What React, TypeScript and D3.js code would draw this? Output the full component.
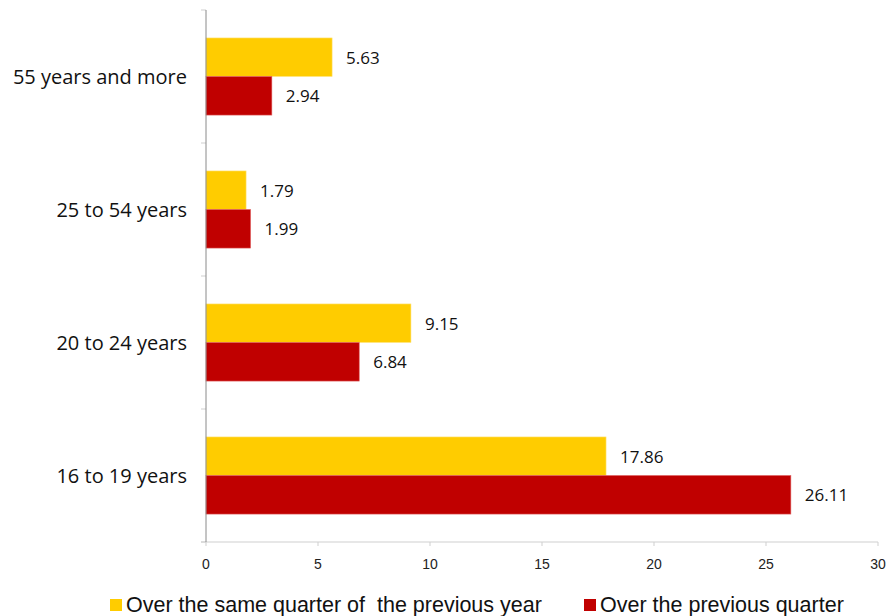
import React from "react";
import * as d3 from "d3";

const categories = ["55 years and more", "25 to 54 years", "20 to 24 years", "16 to 19 years"];
const sameQuarterPrevYear = [5.63, 1.79, 9.15, 17.86];
const previousQuarter = [2.94, 1.99, 6.84, 26.11];
const xTicks = [0, 5, 10, 15, 20, 25, 30];
const seriesNames = ["Over the same quarter of  the previous year", "Over the previous quarter"];
const seriesColors = ["#FFCC00", "#C00000"];

const W = 890;
const H = 616;

export default function App() {
  const x = d3.scaleLinear().domain([0, 30]).range([206, 878]);
  const y = d3.scaleBand<string>().domain(categories).range([10, 542]).paddingInner(0.42).paddingOuter(0.21);
  const sub = d3.scaleBand<number>().domain([0, 1]).range([0, y.bandwidth()]);
  const step = y.step();
  const boundaries = d3.range(categories.length + 1).map((i) => 10 + i * step);
  const series = [sameQuarterPrevYear, previousQuarter];
  const labelFont = "'Open Sans', sans-serif";
  const mainFont = "'Liberation Sans', Arial, sans-serif";

  return (
    <svg width={W} height={H} style={{ position: "absolute", left: 0, top: 0, background: "#fff" }}>
      {/* x axis */}
      <line x1={201} x2={878} y1={542} y2={542} stroke="#cfcfcf" strokeWidth={1} />
      {xTicks.map((t) => (
        <g key={t}>
          <line x1={x(t)} x2={x(t)} y1={542} y2={546} stroke="#cfcfcf" />
          <text x={x(t)} y={569} textAnchor="middle" fontFamily={mainFont} fontSize={14} fill="#222">
            {t}
          </text>
        </g>
      ))}
      {/* y axis ticks */}
      {boundaries.map((b, i) => (
        <line key={i} x1={201} x2={206} y1={b} y2={b} stroke="#cfcfcf" />
      ))}
      {/* bars */}
      {categories.map((c, ci) => (
        <g key={c}>
          {series.map((s, si) => (
            <rect
              key={si}
              x={x(0)}
              y={(y(c) as number) + (sub(si) as number)}
              width={x(s[ci]) - x(0)}
              height={sub.bandwidth()}
              fill={seriesColors[si]}
              stroke={si === 0 ? "#FFE580" : "#E06060"}
              strokeWidth={0.6}
            />
          ))}
          {series.map((s, si) => (
            <text
              key={"l" + si}
              x={x(s[ci]) + 14}
              y={(y(c) as number) + (sub(si) as number) + sub.bandwidth() / 2}
              dominantBaseline="central"
              fontFamily={labelFont}
              fontSize={17}
              fill="#111"
            >
              {s[ci].toFixed(2)}
            </text>
          ))}
          <text
            x={187}
            y={(y(c) as number) + y.bandwidth() / 2 + 7}
            textAnchor="end"
            fontFamily={labelFont}
            fontSize={20}
            fill="#111"
          >
            {c}
          </text>
        </g>
      ))}
      {/* y axis line */}
      <line x1={206} x2={206} y1={10} y2={542} stroke="#8a8a8a" strokeWidth={1} />
      {/* legend */}
      {seriesNames.map((n, i) => {
        const lx = i === 0 ? 110 : 584;
        return (
          <g key={n}>
            <rect x={lx} y={599} width={12} height={12} fill={seriesColors[i]} />
            <text
              x={lx + 16}
              y={612}
              fontFamily={mainFont}
              fontSize={21.5}
              fill="#111"
              style={{ whiteSpace: "pre" }}
            >
              {n}
            </text>
          </g>
        );
      })}
    </svg>
  );
}
